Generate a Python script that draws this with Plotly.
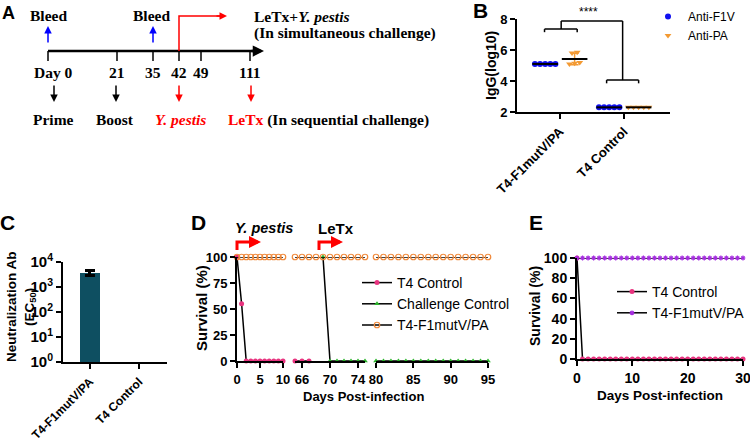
import plotly.graph_objects as go

W, H = 750, 443
SANS = "Liberation Sans, Arial, sans-serif"
SERIF = "Liberation Serif, Times New Roman, serif"

# ---------------- DATA ----------------
# Panel A (timeline)
timeline_labels = ["Day 0", "21", "35", "42", "49", "111"]
bottom_labels = ["Prime", "Boost"]

# Panel B
b_groups = ["T4-F1mutV/PA", "T4 Control"]
b_anti_f1v = [[5.1, 5.1, 5.1, 5.1, 5.1], [2.3, 2.3, 2.3, 2.3, 2.3]]
b_anti_pa = [[5.85, 5.15, 5.1, 5.2, 5.8], [2.3, 2.3, 2.3, 2.3, 2.3]]

# Panel C
c_groups = ["T4-F1mutV/PA", "T4 Control"]
c_ec50 = [3800, None]
c_err = [900, 0]

# Panel D
d_t4_days = [0, 1, 2, 3, 4, 5, 6, 7, 8, 9, 10, 65, 66, 67]
d_t4_surv = [100, 55, 0, 0, 0, 0, 0, 0, 0, 0, 0, 0, 0, 0]
d_cc_days = [69, 70, 71, 72, 73, 74, 75, 80, 81, 82, 83, 84, 85, 86, 87, 88, 89, 90, 91, 92, 93, 94, 95]
d_cc_surv = [100, 0, 0, 0, 0, 0, 0, 0, 0, 0, 0, 0, 0, 0, 0, 0, 0, 0, 0, 0, 0, 0, 0]
d_vac_days = [0, 1, 2, 3, 4, 5, 6, 7, 8, 9, 10,
              65, 66, 67, 68, 69, 70, 71, 72, 73, 74, 75,
              80, 81, 82, 83, 84, 85, 86, 87, 88, 89, 90, 91, 92, 93, 94, 95]
d_vac_surv = [100, 100, 100, 100, 100, 100, 100, 100, 100, 100, 100,
              100, 100, 100, 100, 100, 100, 100, 100, 100, 100, 100,
              100, 100, 100, 100, 100, 100, 100, 100, 100, 100, 100, 100, 100, 100, 100, 100]
d_segments = [(0, 10, [0, 5, 10]), (65, 75, [66, 70, 74]), (80, 95, [80, 85, 90, 95])]

# Panel E
e_days = [0, 1, 2, 3, 4, 5, 6, 7, 8, 9, 10, 11, 12, 13, 14, 15, 16, 17, 18, 19, 20,
          21, 22, 23, 24, 25, 26, 27, 28, 29, 30]
e_t4 = [100, 0, 0, 0, 0, 0, 0, 0, 0, 0, 0, 0, 0, 0, 0, 0, 0, 0, 0, 0, 0,
        0, 0, 0, 0, 0, 0, 0, 0, 0, 0]
e_vac = [100, 100, 100, 100, 100, 100, 100, 100, 100, 100, 100, 100, 100, 100, 100, 100,
         100, 100, 100, 100, 100, 100, 100, 100, 100, 100, 100, 100, 100, 100, 100]

# ---------------- HELPERS ----------------
def px(x):
    return x / W

def py(y):
    return 1 - y / H

annotations = []
shapes = []

def text(x, y, t, size=13, family=SANS, color="black", xanchor="center", yanchor="middle", angle=0):
    annotations.append(dict(x=px(x), y=py(y), xref="paper", yref="paper", text=t, showarrow=False,
                            font=dict(family=family, size=size, color=color),
                            xanchor=xanchor, yanchor=yanchor, textangle=angle))

def arrow(xh, yh, xt, yt, color, width=1.5, size=1.0):
    annotations.append(dict(x=px(xh), y=py(yh), xref="paper", yref="paper", ax=xt - xh, ay=yt - yh,
                            axref="pixel", ayref="pixel", showarrow=True, arrowhead=2,
                            arrowsize=size, arrowwidth=width, arrowcolor=color, text="", standoff=0))

def pline(x0, y0, x1, y1, color="black", width=1.5):
    shapes.append(dict(type="line", xref="paper", yref="paper", x0=px(x0), y0=py(y0),
                       x1=px(x1), y1=py(y1), line=dict(color=color, width=width)))

def ppath(points, color, width):
    d = "M " + " L ".join(f"{px(a)} {py(b)}" for a, b in points)
    shapes.append(dict(type="path", xref="paper", yref="paper", path=d, line=dict(color=color, width=width)))

fig = go.Figure()

# ---------------- PANEL A ----------------
AF = 15.5
text(0, 13, "<b>A</b>", size=18, xanchor="left")
tick_x = [48, 117, 153, 179, 201, 250]
label_x = [53, 117, 153, 179, 201, 250]
pline(48, 51, 255, 51, width=2.5)
arrow(264, 51, 250, 51, "black", width=2.5, size=0.9)
for tx in tick_x:
    pline(tx, 51, tx, 61, width=1.5)
for lx, lab in zip(label_x, timeline_labels):
    text(lx, 72, f"<b>{lab}</b>", size=AF, family=SERIF)
text(48, 15, "<b>Bleed</b>", size=AF, family=SERIF)
text(151, 15, "<b>Bleed</b>", size=AF, family=SERIF)
arrow(48, 26, 48, 44, "blue", width=1.5)
arrow(153, 26, 153, 44, "blue", width=1.5)
ppath([(179, 51), (179, 16), (220, 16)], "red", 1.5)
arrow(227, 16, 215, 16, "red", width=1.5)
text(252, 16, "<b>LeTx+<i>Y. pestis</i></b>", size=AF, family=SERIF, xanchor="left")
text(252, 33, "<b>(In simultaneous challenge)</b>", size=AF, family=SERIF, xanchor="left")
arrow(54, 102, 54, 84, "black", width=1.5)
arrow(116, 102, 116, 84, "black", width=1.5)
arrow(179, 102, 179, 84, "red", width=1.5)
arrow(251, 102, 251, 84, "red", width=1.5)
text(53, 120, f"<b>{bottom_labels[0]}</b>", size=AF, family=SERIF)
text(115, 120, f"<b>{bottom_labels[1]}</b>", size=AF, family=SERIF)
text(180, 120, "<b><i>Y. pestis</i></b>", size=AF, family=SERIF, color="red")
text(226, 120, "<b><span style='color:red'>LeTx</span> (In sequential challenge)</b>", size=AF,
     family=SERIF, xanchor="left")

# ---------------- COMMON AXIS STYLE ----------------
def ax_style(**kw):
    d = dict(showline=True, linecolor="black", linewidth=2, ticks="outside", ticklen=5, tickwidth=2,
             tickcolor="black", showgrid=False, zeroline=False, fixedrange=True, automargin=False,
             ticklabeloverflow="allow",
             tickfont=dict(family=SANS, size=13, color="black", weight="bold"))
    d.update(kw)
    return d

# ---------------- PANEL B ----------------
def spread(vals, step=0.08, tol=0.35):
    offs = [0.0] * len(vals)
    clusters = []
    for i, v in enumerate(vals):
        for c in clusters:
            if abs(vals[c[0]] - v) < tol:
                c.append(i)
                break
        else:
            clusters.append([i])
    for c in clusters:
        n = len(c)
        for k, i in enumerate(sorted(c, key=lambda j: vals[j])):
            offs[i] = (k - (n - 1) / 2) * step
    return offs

def mean_sd(v):
    m = sum(v) / len(v)
    sd = (sum((a - m) ** 2 for a in v) / (len(v) - 1)) ** 0.5
    return m, sd

series_b = [("Anti-F1V", b_anti_f1v, -0.23, "#1010F0", "circle"),
            ("Anti-PA", b_anti_pa, 0.23, "#F39A33", "triangle-down")]
for name, data, off, col, sym in series_b:
    xs, ys = [], []
    for gi, vals in enumerate(data):
        for o, v in zip(spread(vals), vals):
            xs.append(gi + off + o)
            ys.append(v)
    for gi, vals in enumerate(data):
        m, sd = mean_sd(vals)
        fig.add_trace(go.Scatter(x=[gi + off], y=[m], mode="markers", xaxis="x", yaxis="y",
                                 marker=dict(size=1, color="rgba(0,0,0,0)"), showlegend=False,
                                 error_y=dict(type="data", array=[sd], color=col, thickness=1.5, width=4),
                                 cliponaxis=False, hoverinfo="skip"))
    fig.add_trace(go.Scatter(x=xs, y=ys, mode="markers", name=name, xaxis="x", yaxis="y",
                             marker=dict(size=6, color=col, symbol=sym), legend="legend",
                             cliponaxis=False))
    for gi, vals in enumerate(data):
        m, sd = mean_sd(vals)
        fig.add_trace(go.Scatter(x=[gi + off - 0.2, gi + off + 0.2], y=[m, m], mode="lines",
                                 xaxis="x", yaxis="y", line=dict(color="black", width=2),
                                 showlegend=False, cliponaxis=False, hoverinfo="skip"))

# significance bracket (data coords of panel B)
def bline(x0, y0, x1, y1):
    shapes.append(dict(type="line", xref="x", yref="y", x0=x0, y0=y0, x1=x1, y1=y1,
                       line=dict(color="black", width=1.5)))
bline(-0.24, 7.35, 0.27, 7.35); bline(-0.24, 7.35, -0.24, 7.15); bline(0.27, 7.35, 0.27, 7.15)
bline(0.02, 7.35, 0.02, 7.87); bline(0.02, 7.87, 0.98, 7.87); bline(0.98, 7.87, 0.98, 4.06)
bline(0.73, 4.06, 1.23, 4.06); bline(0.73, 4.06, 0.73, 3.85); bline(1.23, 4.06, 1.23, 3.85)
annotations.append(dict(x=0.44, y=7.9, xref="x", yref="y", text="****", showarrow=False,
                        font=dict(family=SANS, size=12, color="black"), yanchor="bottom"))
text(480, 11, "<b>B</b>", size=21)
text(491, 65, "<b>IgG(log10)</b>", size=14, angle=-90)

# ---------------- PANEL C ----------------
fig.add_trace(go.Bar(x=[0, 1], y=c_ec50, width=0.41, xaxis="x2", yaxis="y2", showlegend=False,
                     marker=dict(color="#0E4F61", line=dict(width=0)),
                     error_y=dict(type="data", array=c_err, color="black", thickness=3, width=5)))
text(7, 222, "<b>C</b>", size=21)
text(21, 307, "<b>Neutralization Ab</b><br><b>(EC<sub>50</sub>)</b>", size=13.5, angle=-90)

# ---------------- PANEL D ----------------
d_axes = ["x3", "x4", "x5"]
d_series = [("T4 Control", d_t4_days, d_t4_surv, dict(size=5, color="#E8337F", symbol="circle")),
            ("Challenge Control", d_cc_days, d_cc_surv, dict(size=5, color="#2DB52D", symbol="triangle-up")),
            ("T4-F1mutV/PA", d_vac_days, d_vac_surv,
             dict(size=5.5, color="#F08A3C", symbol="circle-open", line=dict(width=1.2)))]
for name, days, surv, mk in d_series:
    first = True
    for si, (lo, hi, _) in enumerate(d_segments):
        pts = [(d, s) for d, s in zip(days, surv) if lo <= d <= hi]
        if not pts:
            continue
        fig.add_trace(go.Scatter(x=[p[0] for p in pts], y=[p[1] for p in pts], mode="lines+markers",
                                 name=name, xaxis=d_axes[si], yaxis="y3",
                                 line=dict(color="black", width=1.5), marker=mk,
                                 showlegend=first, legend="legend2", cliponaxis=False))
        first = False
text(199, 222, "<b>D</b>", size=21)
text(201, 308, "<b>Survival (%)</b>", size=15, angle=-90)
text(363, 396, "<b>Days Post-infection</b>", size=13)
text(264, 228, "<b><i>Y. pestis</i></b>", size=14.5)
text(336, 228, "<b>LeTx</b>", size=15)
ppath([(237, 250), (237, 242), (252, 242)], "red", 3)
arrow(261, 242, 250, 242, "red", width=3, size=0.8)
ppath([(319, 250), (319, 242), (334, 242)], "red", 3)
arrow(343, 242, 332, 242, "red", width=3, size=0.8)

# ---------------- PANEL E ----------------
fig.add_trace(go.Scatter(x=e_days, y=e_t4, mode="lines+markers", name="T4 Control", xaxis="x6",
                         yaxis="y6", line=dict(color="black", width=1.5),
                         marker=dict(size=5, color="#E8337F"), legend="legend3", cliponaxis=False))
fig.add_trace(go.Scatter(x=e_days, y=e_vac, mode="lines+markers", name="T4-F1mutV/PA", xaxis="x6",
                         yaxis="y6", line=dict(color="black", width=1.5),
                         marker=dict(size=4, color="#A52DE0", symbol="asterisk",
                                     line=dict(width=1.2, color="#A52DE0")),
                         legend="legend3", cliponaxis=False))
text(536, 222, "<b>E</b>", size=21)
text(535, 306, "<b>Survival (%)</b>", size=14, angle=-90)
text(660, 395, "<b>Days Post-infection</b>", size=13.5)

# ---------------- LAYOUT ----------------
layout = dict(
    width=W, height=H, margin=dict(l=0, r=0, t=0, b=0, autoexpand=False),
    paper_bgcolor="white", plot_bgcolor="white", showlegend=True,
    annotations=annotations, shapes=shapes, bargap=0,
    xaxis=ax_style(domain=[px(517), px(670)], range=[-0.67, 1.72], tickvals=[0, 1],
                   ticktext=b_groups, tickangle=-45, anchor="y"),
    yaxis=ax_style(domain=[py(112), py(19)], range=[2, 8], tickvals=[2, 4, 6, 8], anchor="x"),
    xaxis2=ax_style(domain=[px(63), px(167)], range=[-0.55, 1.57], tickvals=[0, 1],
                    ticktext=c_groups, tickangle=-45, anchor="y2", ticklabelstandoff=1,
                    tickfont=dict(family=SANS, size=12, color="black", weight="bold")),
    yaxis2=ax_style(domain=[py(362), py(262)], type="log", range=[0, 4],
                    tickvals=[1, 10, 100, 1000, 10000],
                    ticktext=["10<sup>0</sup>", "10<sup>1</sup>", "10<sup>2</sup>", "10<sup>3</sup>", "10<sup>4</sup>"],
                    anchor="x2", tickfont=dict(family=SANS, size=15, color="black", weight="bold")),
    yaxis3=ax_style(domain=[py(361), py(257)], range=[0, 100], tickvals=[0, 25, 50, 75, 100], anchor="x3"),
    yaxis6=ax_style(domain=[py(359), py(258)], range=[0, 100], tickvals=[0, 20, 40, 60, 80, 100],
                    anchor="x6", tickfont=dict(family=SANS, size=14, color="black", weight="bold")),
    xaxis6=ax_style(domain=[px(577), px(743)], range=[0, 30], tickvals=[0, 10, 20, 30], anchor="y6",
                    tickfont=dict(family=SANS, size=14, color="black", weight="bold")),
    legend=dict(x=px(648), y=py(2), xanchor="left", yanchor="top", bgcolor="rgba(0,0,0,0)",
                font=dict(family=SANS, size=12, color="black"), tracegroupgap=0),
    legend2=dict(x=px(357), y=py(267), xanchor="left", yanchor="top", bgcolor="rgba(0,0,0,0)",
                 font=dict(family=SANS, size=14, color="black"), tracegroupgap=0),
    legend3=dict(x=px(612), y=py(276), xanchor="left", yanchor="top", bgcolor="rgba(0,0,0,0)",
                 font=dict(family=SANS, size=14, color="black"), tracegroupgap=0),
)
seg_px = [(237, 283), (295, 365), (376, 488)]
for name, (lo, hi, tv), (a, b) in zip(["xaxis3", "xaxis4", "xaxis5"], d_segments, seg_px):
    layout[name] = ax_style(domain=[px(a), px(b)], range=[lo, hi], tickvals=tv, anchor="y3")
fig.update_layout(**layout)

fig.write_html("out.html", config={"displayModeBar": False},
               post_script="document.body.style.margin='0';document.body.style.overflow='hidden';")
